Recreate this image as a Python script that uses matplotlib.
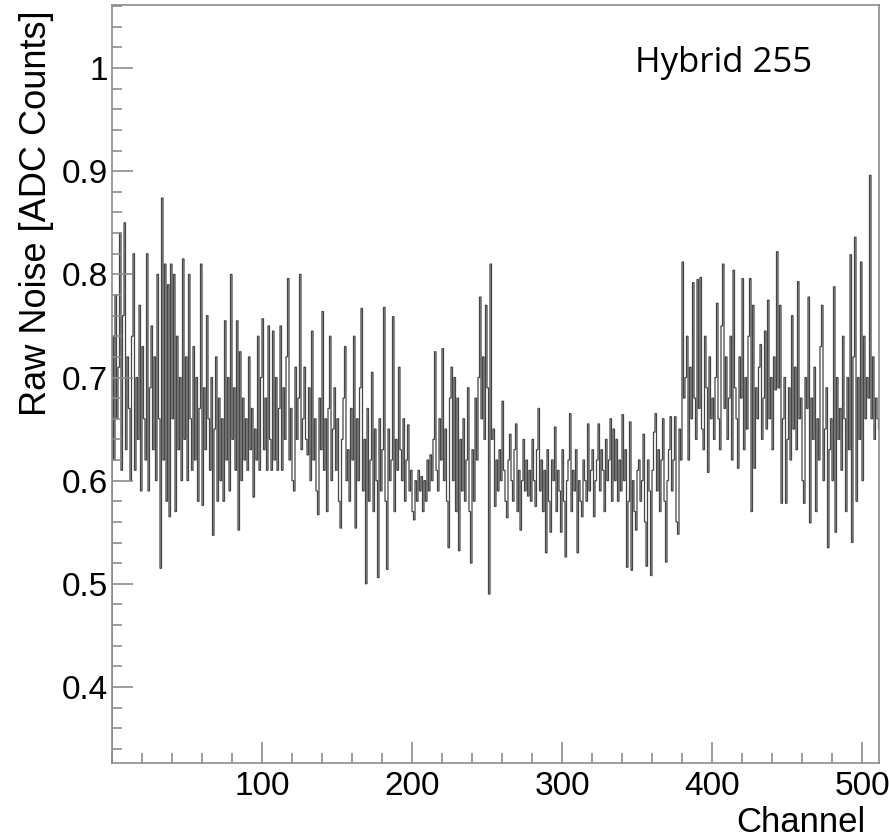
# -*- coding: utf-8 -*-
"""
Raw noise per channel for one hybrid, drawn as a ROOT-like step histogram.
Output: out.png (889 x 838 px)
"""

import numpy as np
import matplotlib
matplotlib.use('Agg')
import matplotlib.pyplot as plt
from matplotlib.ticker import MultipleLocator

# -------- data (512 channels) --------
hybrid_label = 'Hybrid 255'

noise_ch000_127 = [
    0.74, 0.62, 0.78, 0.66, 0.71, 0.84, 0.61, 0.76, 0.85, 0.63, 0.72, 0.67, 0.60, 0.74, 0.82, 0.61,
    0.70, 0.64, 0.77, 0.59, 0.73, 0.66, 0.62, 0.82, 0.59, 0.69, 0.75, 0.63, 0.72, 0.60, 0.80, 0.66,
    0.515, 0.874, 0.62, 0.81, 0.58, 0.79, 0.565, 0.81, 0.66, 0.80, 0.57, 0.74, 0.63, 0.70, 0.60, 0.815,
    0.64, 0.72, 0.60, 0.80, 0.66, 0.61, 0.73, 0.62, 0.70, 0.58, 0.67, 0.81, 0.576, 0.69, 0.63, 0.76,
    0.66, 0.61, 0.70, 0.547, 0.65, 0.72, 0.58, 0.68, 0.60, 0.66, 0.58, 0.755, 0.62, 0.70, 0.59, 0.80,
    0.64, 0.69, 0.61, 0.755, 0.552, 0.725, 0.60, 0.68, 0.62, 0.66, 0.61, 0.72, 0.63, 0.67, 0.584, 0.65,
    0.62, 0.74, 0.61, 0.70, 0.757, 0.63, 0.68, 0.61, 0.75, 0.64, 0.61, 0.745, 0.62, 0.70, 0.61, 0.67,
    0.75, 0.61, 0.69, 0.64, 0.72, 0.796, 0.62, 0.67, 0.60, 0.59, 0.71, 0.64, 0.68, 0.80, 0.63, 0.66,
]

noise_ch128_255 = [
    0.71, 0.64, 0.625, 0.69, 0.60, 0.745, 0.62, 0.66, 0.59, 0.567, 0.68, 0.63, 0.764, 0.61, 0.66, 0.57,
    0.67, 0.74, 0.60, 0.65, 0.69, 0.61, 0.66, 0.58, 0.554, 0.64, 0.68, 0.73, 0.60, 0.63, 0.58, 0.67,
    0.62, 0.74, 0.554, 0.66, 0.60, 0.69, 0.767, 0.59, 0.64, 0.50, 0.67, 0.58, 0.62, 0.705, 0.57, 0.65,
    0.60, 0.506, 0.66, 0.59, 0.63, 0.768, 0.58, 0.514, 0.65, 0.60, 0.62, 0.759, 0.57, 0.64, 0.61, 0.71,
    0.63, 0.60, 0.66, 0.58, 0.62, 0.654, 0.59, 0.61, 0.57, 0.562, 0.60, 0.58, 0.61, 0.59, 0.604, 0.57,
    0.60, 0.58, 0.62, 0.59, 0.625, 0.60, 0.64, 0.725, 0.61, 0.59, 0.66, 0.62, 0.728, 0.60, 0.65, 0.58,
    0.535, 0.68, 0.71, 0.60, 0.70, 0.57, 0.68, 0.532, 0.64, 0.59, 0.66, 0.58, 0.62, 0.69, 0.57, 0.52,
    0.63, 0.58, 0.68, 0.62, 0.70, 0.778, 0.66, 0.72, 0.64, 0.77, 0.69, 0.49, 0.81, 0.64, 0.65, 0.575,
]

noise_ch256_383 = [
    0.62, 0.59, 0.63, 0.60, 0.677, 0.61, 0.58, 0.564, 0.62, 0.645, 0.60, 0.58, 0.63, 0.655, 0.57, 0.61,
    0.552, 0.60, 0.64, 0.59, 0.62, 0.585, 0.61, 0.58, 0.64, 0.60, 0.575, 0.63, 0.67, 0.59, 0.62, 0.57,
    0.61, 0.53, 0.63, 0.58, 0.55, 0.62, 0.60, 0.652, 0.57, 0.61, 0.59, 0.55, 0.63, 0.58, 0.526, 0.60,
    0.62, 0.665, 0.57, 0.61, 0.59, 0.63, 0.53, 0.60, 0.58, 0.565, 0.62, 0.60, 0.58, 0.655, 0.59, 0.61,
    0.63, 0.565, 0.60, 0.62, 0.655, 0.59, 0.63, 0.61, 0.57, 0.64, 0.60, 0.62, 0.66, 0.58, 0.65, 0.60,
    0.64, 0.58, 0.62, 0.59, 0.664, 0.60, 0.63, 0.516, 0.58, 0.657, 0.513, 0.60, 0.57, 0.552, 0.61, 0.62,
    0.58, 0.60, 0.645, 0.56, 0.517, 0.62, 0.59, 0.508, 0.61, 0.647, 0.665, 0.59, 0.63, 0.57, 0.62, 0.66,
    0.58, 0.521, 0.60, 0.63, 0.662, 0.59, 0.62, 0.662, 0.56, 0.548, 0.65, 0.62, 0.812, 0.68, 0.70, 0.74,
]

noise_ch384_511 = [
    0.62, 0.71, 0.66, 0.792, 0.68, 0.64, 0.795, 0.67, 0.797, 0.65, 0.63, 0.74, 0.69, 0.608, 0.72, 0.66,
    0.68, 0.64, 0.70, 0.772, 0.66, 0.63, 0.75, 0.81, 0.67, 0.72, 0.64, 0.68, 0.74, 0.62, 0.804, 0.69,
    0.66, 0.612, 0.72, 0.68, 0.796, 0.63, 0.70, 0.65, 0.74, 0.796, 0.57, 0.77, 0.612, 0.69, 0.66, 0.71,
    0.732, 0.64, 0.68, 0.745, 0.65, 0.775, 0.66, 0.70, 0.63, 0.72, 0.688, 0.822, 0.69, 0.77, 0.578, 0.66,
    0.70, 0.578, 0.64, 0.69, 0.62, 0.76, 0.65, 0.71, 0.63, 0.793, 0.66, 0.68, 0.60, 0.578, 0.70, 0.67,
    0.778, 0.559, 0.68, 0.64, 0.71, 0.57, 0.66, 0.62, 0.73, 0.77, 0.60, 0.65, 0.69, 0.535, 0.63, 0.66,
    0.60, 0.788, 0.55, 0.70, 0.64, 0.67, 0.61, 0.74, 0.66, 0.57, 0.70, 0.63, 0.819, 0.54, 0.72, 0.836,
    0.58, 0.70, 0.64, 0.812, 0.60, 0.74, 0.66, 0.70, 0.68, 0.896, 0.66, 0.72, 0.64, 0.68, 0.66, 0.65,
]

raw_noise = np.array(noise_ch000_127 + noise_ch128_255 + noise_ch256_383 + noise_ch384_511)
bin_edges = np.arange(len(raw_noise) + 1)

# -------- figure --------
W, H, dpi = 889, 838, 100
fig = plt.figure(figsize=(W / dpi, H / dpi), dpi=dpi, facecolor='white')

ax_left, ax_right = 112, 878.5      # pixel columns of the frame
ax_top, ax_bottom = 5, 763          # pixel rows of the frame
ax = fig.add_axes([ax_left / W, 1 - ax_bottom / H,
                   (ax_right - ax_left) / W, (ax_bottom - ax_top) / H])

# thin dark step line; at 1.5 px per bin it blends into grey like the original
ax.stairs(raw_noise, bin_edges, color='#454545', linewidth=0.9)

ax.set_xlim(0, 511)
ax.set_ylim(0.3262, 1.0612)

frame_col = '#8c8c8c'
for side in ax.spines.values():
    side.set_color(frame_col)
    side.set_linewidth(1.2)

ax.xaxis.set_major_locator(MultipleLocator(100))
ax.xaxis.set_minor_locator(MultipleLocator(20))
ax.yaxis.set_major_locator(MultipleLocator(0.1))
ax.yaxis.set_minor_locator(MultipleLocator(0.02))
ax.tick_params(which='both', direction='in', color=frame_col, width=1.2,
               top=False, right=False)
ax.tick_params(which='major', length=15)
ax.tick_params(which='minor', length=7.5)
ax.tick_params(axis='x', which='major', pad=6)
ax.tick_params(axis='y', which='major', pad=3)

tick_font = 'Liberation Sans'
ax.set_xticks([100, 200, 300, 400, 500])
ax.set_xticklabels(['100', '200', '300', '400', '500'],
                   fontsize=24, family=tick_font)
ax.set_yticks([0.4, 0.5, 0.6, 0.7, 0.8, 0.9, 1.0])
ax.set_yticklabels(['0.4', '0.5', '0.6', '0.7', '0.8', '0.9', '1'],
                   fontsize=24, family=tick_font)

fig.text(865 / W, 1 - 822 / H, 'Channel', ha='right', va='center',
         fontsize=25, family=tick_font)
fig.text(37 / W, 1 - 10 / H, 'Raw Noise [ADC Counts]', rotation=90,
         ha='center', va='top', fontsize=26, family=tick_font)
fig.text(724 / W, 1 - 63 / H, hybrid_label, ha='center', va='center',
         fontsize=25, family='Open Sans')

fig.savefig('out.png', dpi=dpi, facecolor='white')
